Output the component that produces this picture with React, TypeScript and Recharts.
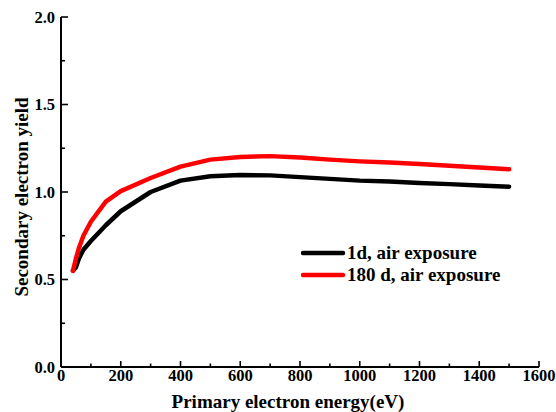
import React from 'react'
import { LineChart, Line, XAxis, YAxis, Legend, Label } from 'recharts'

const ENERGY = [40, 50, 60, 75, 100, 150, 200, 300, 400, 500, 600, 700, 800, 900, 1000, 1100, 1200, 1300, 1400, 1500]
const YIELD_1D = [0.55, 0.57, 0.62, 0.67, 0.72, 0.81, 0.89, 1.0, 1.065, 1.09, 1.097, 1.095, 1.085, 1.075, 1.065, 1.06, 1.052, 1.045, 1.037, 1.03]
const YIELD_180D = [0.55, 0.62, 0.68, 0.75, 0.83, 0.945, 1.005, 1.08, 1.145, 1.185, 1.2, 1.205, 1.197, 1.185, 1.175, 1.168, 1.16, 1.15, 1.14, 1.13]

const X_TICKS = [0, 100, 200, 300, 400, 500, 600, 700, 800, 900, 1000, 1100, 1200, 1300, 1400, 1500, 1600]
const Y_TICKS = [0, 0.25, 0.5, 0.75, 1.0, 1.25, 1.5, 1.75, 2.0]

const SERIES = [
  { key: 'd1', name: '1d, air exposure', color: '#000000' },
  { key: 'd180', name: '180 d, air exposure', color: '#ff0000' },
]

const data = ENERGY.map((e, i) => ({ energy: e, d1: YIELD_1D[i], d180: YIELD_180D[i] }))

const FONT = '"Liberation Serif", "Times New Roman", serif'

const XTick = (props: any) => {
  const { x, y, payload } = props
  const major = payload.value % 200 === 0
  return (
    <g>
      <line x1={x} y1={y} x2={x} y2={y - (major ? 6 : 3.5)} stroke="#000" strokeWidth={1.6} />
      {major && (
        <text x={x} y={y + 14} textAnchor="middle" fontFamily={FONT} fontWeight="bold" fontSize={16.5} fill="#000">
          {payload.value}
        </text>
      )}
    </g>
  )
}

const YTick = (props: any) => {
  const { x, y, payload } = props
  const major = Math.abs((payload.value * 2) % 1) < 1e-6
  return (
    <g>
      <line x1={x} y1={y} x2={x + (major ? 7 : 4)} y2={y} stroke="#000" strokeWidth={1.6} />
      {major && (
        <text x={x - 6} y={y + 5.5} textAnchor="end" fontFamily={FONT} fontWeight="bold" fontSize={16.5} fill="#000">
          {payload.value.toFixed(1)}
        </text>
      )}
    </g>
  )
}

const LegendBox = () => (
  <div style={{ fontFamily: FONT, fontWeight: 'bold', fontSize: 19, color: '#000' }}>
    {SERIES.map((s) => (
      <div key={s.key} style={{ display: 'flex', alignItems: 'center', height: 22 }}>
        <svg width={46} height={8}>
          <line x1={2} y1={4} x2={42} y2={4} stroke={s.color} strokeWidth={4.5} strokeLinecap="round" />
        </svg>
        <span style={{ whiteSpace: 'nowrap' }}>{s.name}</span>
      </div>
    ))}
  </div>
)

export default function App() {
  return (
    <div style={{ position: 'absolute', left: 0, top: 0, width: 556, height: 412, background: '#fff' }}>
      <LineChart width={556} height={412} data={data} margin={{ top: 17, right: 17, bottom: 0, left: 0 }}>
        <XAxis
          dataKey="energy"
          type="number"
          domain={[0, 1600]}
          ticks={X_TICKS}
          interval={0}
          height={45}
          tickSize={0}
          tickMargin={0}
          tickLine={false}
          tick={<XTick />}
          axisLine={{ stroke: '#000', strokeWidth: 2 }}
        >
          <Label
            content={() => (
              <text x={288} y={408} textAnchor="middle" fontFamily={FONT} fontWeight="bold" fontSize={19} fill="#000">
                Primary electron energy(eV)
              </text>
            )}
          />
        </XAxis>
        <XAxis
          xAxisId="top"
          orientation="top"
          type="number"
          domain={[0, 1600]}
          height={0}
          tick={false}
          tickLine={false}
          axisLine={{ stroke: '#000', strokeWidth: 2 }}
        />
        <YAxis
          type="number"
          domain={[0, 2]}
          ticks={Y_TICKS}
          interval={0}
          width={61}
          tickSize={0}
          tickMargin={0}
          tickLine={false}
          tick={<YTick />}
          axisLine={{ stroke: '#000', strokeWidth: 2 }}
        >
          <Label
            content={() => (
              <text
                x={21}
                y={197}
                transform="rotate(-90 21 197)"
                textAnchor="middle"
                dominantBaseline="central"
                fontFamily={FONT}
                fontWeight="bold"
                fontSize={19}
                fill="#000"
              >
                Secondary electron yield
              </text>
            )}
          />
        </YAxis>
        <YAxis
          yAxisId="right"
          orientation="right"
          type="number"
          domain={[0, 2]}
          width={0}
          tick={false}
          tickLine={false}
          axisLine={{ stroke: '#000', strokeWidth: 2 }}
        />
        <Legend
          layout="vertical"
          align="center"
          verticalAlign="middle"
          content={<LegendBox />}
          wrapperStyle={{ left: 301, top: 242, width: 240 }}
        />
        {SERIES.map((s) => (
          <Line
            key={s.key}
            dataKey={s.key}
            name={s.name}
            type="linear"
            stroke={s.color}
            strokeWidth={4.5}
            strokeLinecap="round"
            strokeLinejoin="round"
            dot={false}
            isAnimationActive={false}
          />
        ))}
      </LineChart>
    </div>
  )
}
